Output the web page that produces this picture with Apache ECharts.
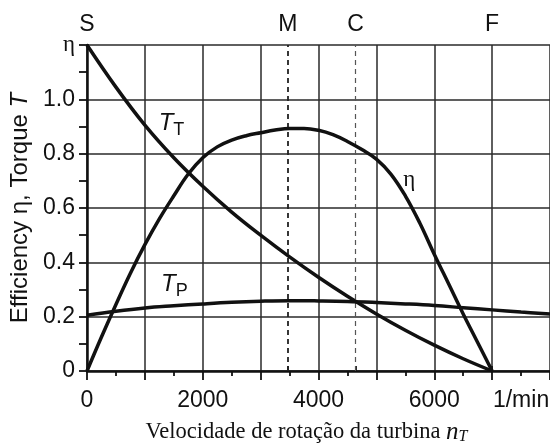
<!DOCTYPE html>
<html>
<head>
<meta charset="utf-8">
<script src="https://cdn.jsdelivr.net/npm/echarts@6/dist/echarts.min.js"></script>
<style>html,body{margin:0;padding:0;background:#fff}#c{width:550px;height:446px}</style>
</head>
<body>
<div id="c"></div>
<script>
// ---- data ----
const rpm = [0,500,1000,1500,2000,2500,3000,3500,4000,4500,5000,5500,6000,6500,7000,7500,8000];
const turbineTorque = [1.2,1.045,0.905,0.785,0.68,0.585,0.5,0.42,0.345,0.275,0.21,0.15,0.095,0.045,0.0];
const pumpTorque = [0.205,0.22,0.232,0.24,0.247,0.253,0.257,0.259,0.258,0.256,0.252,0.247,0.241,0.233,0.225,0.217,0.21];
const etaRpm = [0,250,500,750,1000,1250,1500,1750,2000,2250,2500,2750,3000,3250,3500,3750,4000,4250,4500,4750,5000,5250,5500,5750,6000,6250,6500,6750,7000];
const efficiency = [0,0.125,0.245,0.36,0.465,0.56,0.645,0.725,0.785,0.825,0.85,0.866,0.877,0.887,0.893,0.893,0.886,0.87,0.845,0.815,0.78,0.725,0.645,0.545,0.43,0.32,0.21,0.105,0];
const pointNames = ['S','M','C','F'];
const pointRpm = [0,3470,4640,7000];
const bottomLabelValues = [0,2000,4000,6000,7500];
const unitLabel = '1/min';
const labelTT = [1460,0.91];
const labelTP = [1510,0.318];
const labelEta = [5570,0.705];

const pair = (xs, ys) => ys.map((v,i)=>[xs[i], v]);
const SANS = 'Liberation Sans, Arial, sans-serif';
const SERIF = 'Liberation Serif, Times New Roman, serif';
const INK = '#111';

const chart = echarts.init(document.getElementById('c'), null, {renderer:'canvas'});
const lbl = (coord, text) => ({
  coord: coord, symbol:'rect', symbolSize:1, itemStyle:{color:'transparent'},
  label:{show:true, position:'inside', formatter:text, color:INK, fontFamily:SANS, fontSize:22,
    rich:{it:{fontStyle:'italic',fontSize:24,fontFamily:SANS,color:INK},
          sub:{fontSize:18,fontFamily:SANS,color:INK,padding:[12,0,0,0]},
          eta:{fontSize:23,fontFamily:SERIF,color:INK}}}
});

chart.setOption({
  animation:false,
  backgroundColor:'#fff',
  grid:{left:87, right:0, top:45, bottom:75, containLabel:false, outerBoundsMode:'none'},
  xAxis:[{
    type:'value', min:0, max:8000, interval:1000, position:'bottom',
    axisLine:{show:true, onZero:false, lineStyle:{color:INK, width:2.5}},
    axisTick:{show:true, length:9, lineStyle:{color:INK, width:1.8}},
    minorTick:{show:true, splitNumber:2, length:5, lineStyle:{color:INK, width:1.8}},
    splitLine:{show:true, lineStyle:{color:'#2a2a2a', width:1.5}},
    axisLabel:{customValues:bottomLabelValues, margin:18, color:INK, fontFamily:SANS, fontSize:23,
      formatter:v=> v===7500 ? unitLabel : String(v)},
    name:'Velocidade de rotação da turbina {it|n}{sub|T}',
    nameLocation:'middle', nameGap:48,
    nameTextStyle:{fontFamily:SERIF, fontSize:22.5, color:INK, padding:[0,24,0,0],
      rich:{it:{fontFamily:SERIF, fontStyle:'italic', fontSize:25, color:INK},
            sub:{fontFamily:SERIF, fontStyle:'italic', fontSize:16, color:INK, padding:[10,0,0,0]}}}
  },{
    type:'value', min:0, max:8000, position:'top',
    axisLine:{show:false},
    splitLine:{show:false},
    axisTick:{show:true, customValues:pointRpm.slice(1), length:5, inside:false, lineStyle:{color:INK, width:1.8}},
    axisLabel:{customValues:pointRpm, margin:9, color:INK, fontFamily:SANS, fontSize:23,
      formatter:v=>{const i=pointRpm.indexOf(v); return i>=0?pointNames[i]:'';}}
  }],
  yAxis:{
    type:'value', min:0, max:1.2, interval:0.2,
    axisLine:{show:true, lineStyle:{color:INK, width:2.5}},
    axisTick:{show:true, length:8, lineStyle:{color:INK, width:1.8}},
    minorTick:{show:true, splitNumber:2, length:8, lineStyle:{color:INK, width:1.8}},
    splitLine:{show:true, lineStyle:{color:'#2a2a2a', width:1.5}},
    axisLabel:{margin:12, color:INK, fontFamily:SANS, fontSize:23,
      formatter:v=> Math.abs(v-1.2)<1e-6 ? '{eta|η}' : (v===0?'0':v.toFixed(1)),
      rich:{eta:{fontFamily:SERIF, fontSize:23, color:INK}}},
    name:'Efficiency η, Torque {it|T}',
    nameLocation:'middle', nameGap:54,
    nameTextStyle:{fontFamily:SANS, fontSize:24, color:INK,
      rich:{it:{fontFamily:SANS, fontStyle:'italic', fontSize:24, color:INK}}}
  },
  series:[
    {type:'line', name:'TT', data:pair(rpm, turbineTorque), smooth:0.4, showSymbol:false,
     lineStyle:{color:INK, width:3.5}, z:5,
     markPoint:{silent:true, data:[lbl(labelTT,'{it|T}{sub|T}')]}},
    {type:'line', name:'eta', data:pair(etaRpm, efficiency), smooth:0.4, showSymbol:false,
     lineStyle:{color:INK, width:3.5}, z:5,
     markPoint:{silent:true, data:[lbl(labelEta,'{eta|η}')]}},
    {type:'line', name:'TP', data:pair(rpm, pumpTorque), smooth:0.4, showSymbol:false,
     lineStyle:{color:INK, width:3.5}, z:5,
     markPoint:{silent:true, data:[lbl(labelTP,'{it|T}{sub|P}')]},
     markLine:{silent:true, symbol:'none', label:{show:false},
       data:[
         {xAxis:pointRpm[1], lineStyle:{color:'#222', width:1.8, type:[5,4]}},
         {xAxis:pointRpm[2], lineStyle:{color:'#555', width:1.2, type:[5,4]}}
       ]}}
  ]
});
</script>
</body>
</html>
